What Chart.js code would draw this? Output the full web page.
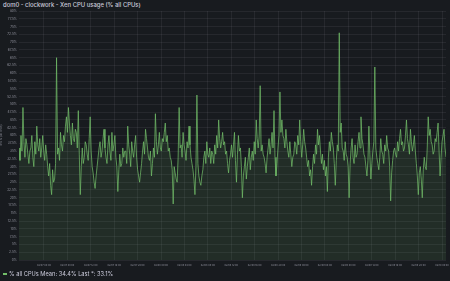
<!DOCTYPE html>
<html>
<head>
<meta charset="utf-8">
<script src="https://cdn.jsdelivr.net/npm/chart.js@4.4.1/dist/chart.umd.min.js"></script>
<style>
  html, body { margin: 0; padding: 0; background: #181b1f; }
  body { width: 450px; height: 281px; position: relative; overflow: hidden; font-family: Inter, "Noto Sans", sans-serif; }
  #chart { position: absolute; left: 0; top: 0; }
  #title { position: absolute; left: 3px; top: 1px; font-size: 5.9px; color: #ccccdc; font-weight: 500; white-space: nowrap; }
  #legend { position: absolute; left: 3px; top: 269.5px; font-size: 5.7px; color: #ccccdc; white-space: nowrap; }
  #legend .mark { display: inline-block; width: 4px; height: 1.5px; background: #73BF69; vertical-align: middle; margin-right: 2px; }
</style>
</head>
<body>
<div id="title">dom0 - clockwork - Xen CPU usage (% all CPUs)</div>
<canvas id="chart" width="450" height="281"></canvas>
<div id="legend"><span class="mark"></span>% all CPUs Mean: 34.4% Last *: 33.1%</div>
<script>
// hours relative to 02/07 00:00
const xMin = -0.26;
const xMax = 72.68;

const tickHours = [4, 8, 12, 16, 20, 24, 28, 32, 36, 40, 44, 48, 52, 56, 60, 64, 68, 72];
const tickLabels = ['02/07 04:00', '02/07 08:00', '02/07 12:00', '02/07 16:00', '02/07 20:00',
  '02/08 00:00', '02/08 04:00', '02/08 08:00', '02/08 12:00', '02/08 16:00', '02/08 20:00',
  '02/09 00:00', '02/09 04:00', '02/09 08:00', '02/09 12:00', '02/09 16:00', '02/09 20:00',
  '02/10 00:00'];

// % all CPUs, samples in time order
const cpuValues = [
  // 02/06 23:45 - 02/07 18:00
  36, 32, 40, 35, 49, 38, 33, 39, 37, 34, 31, 35, 36, 40, 33, 30, 38, 34, 43, 37,
  35, 39, 33, 36, 40, 35, 32, 37, 34, 30, 27, 31, 24, 21, 29, 25, 26, 31, 65, 34,
  36, 32, 41, 37, 35, 40, 38, 43, 46, 41, 49, 44, 40, 37, 44, 39, 38, 42, 41, 36,
  48, 34, 21, 30, 36, 31, 33, 38, 37, 34, 32, 39, 46, 35, 30, 28, 25, 23, 27, 30,
  33, 36, 38, 33, 35, 39, 42, 36, 33, 31, 37, 40, 35, 32, 41, 35, 37, 40, 33, 30,
  22, 29, 34, 30, 31, 36, 33, 35,
  // 02/07 18:00 - 02/08 12:00
  35, 31, 43, 37, 34, 30, 38, 35, 33, 37, 40, 33, 29, 27, 25, 28, 31, 35, 38, 34,
  42, 39, 36, 33, 32, 35, 27, 31, 36, 33, 47, 38, 34, 37, 41, 36, 35, 39, 38, 41,
  44, 38, 40, 35, 36, 33, 32, 29, 18, 30, 28, 26, 25, 33, 49, 36, 37, 33, 41, 37,
  35, 32, 38, 36, 43, 37, 33, 31, 29, 26, 21, 30, 53, 31, 27, 25, 24, 27, 29, 33,
  35, 31, 38, 34, 33, 36, 31, 35, 34, 31, 37, 34, 40, 36, 45, 39, 36, 38, 41, 37,
  38, 34, 35, 31, 28, 32, 34, 37,
  // 02/08 12:00 - 02/09 06:00
  33, 37, 41, 32, 25, 34, 40, 35, 36, 30, 20, 27, 30, 33, 26, 30, 33, 36, 29, 33,
  35, 32, 38, 34, 45, 39, 36, 40, 56, 35, 37, 34, 33, 31, 28, 33, 36, 39, 34, 37,
  41, 36, 48, 33, 27, 31, 36, 40, 54, 41, 45, 40, 39, 36, 42, 38, 35, 33, 38, 34,
  30, 33, 34, 38, 37, 34, 40, 37, 45, 38, 33, 37, 42, 38, 36, 33, 30, 32, 27, 29,
  24, 30, 34, 31, 37, 34, 42, 37, 40, 35, 31, 34, 29, 32, 27, 30, 22, 33, 38, 35,
  41, 38, 36, 31, 24, 32, 37, 35,
  // 02/09 06:00 - 02/10 00:40
  73, 41, 44, 36, 35, 32, 38, 34, 33, 30, 20, 31, 36, 39, 33, 31, 37, 33, 34, 38,
  41, 36, 46, 39, 37, 34, 33, 30, 27, 32, 43, 34, 26, 31, 35, 38, 62, 36, 33, 31,
  29, 33, 39, 35, 34, 31, 37, 35, 40, 36, 35, 30, 19, 28, 32, 35, 36, 34, 33, 38,
  35, 39, 42, 37, 38, 35, 36, 40, 45, 39, 37, 34, 42, 38, 35, 37, 40, 35, 31, 27,
  21, 28, 30, 26, 20, 29, 33, 30, 29, 36, 46, 40, 42, 38, 37, 34, 35, 39, 38, 41,
  44, 35, 27, 33, 38, 40, 42, 36, 33.1
];

const sampleStep = (xMax - xMin) / (cpuValues.length - 1);
const cpuPoints = cpuValues.map((v, i) => ({ x: xMin + i * sampleStep, y: v }));

const gridColor = 'rgba(204, 204, 220, 0.08)';
const tickColor = 'rgba(204, 204, 220, 0.65)';

const ctx = document.getElementById('chart').getContext('2d');
const chart = new Chart(ctx, {
  type: 'line',
  data: {
    datasets: [{
      label: '% all CPUs',
      data: cpuPoints,
      borderColor: 'rgba(115, 191, 105, 0.72)',
      borderWidth: 1,
      backgroundColor: 'rgba(115, 191, 105, 0.11)',
      fill: 'origin',
      pointRadius: 0,
      tension: 0
    }]
  },
  options: {
    responsive: false,
    animation: false,
    devicePixelRatio: 1,
    layout: { padding: { top: 11, right: 4, left: 0, bottom: 0 } },
    scales: {
      x: {
        type: 'linear',
        min: xMin,
        max: xMax,
        afterBuildTicks: (scale) => { scale.ticks = tickHours.map(v => ({ value: v })); },
        afterFit: (scale) => { scale.height = 21; scale.paddingLeft = 0; scale.paddingRight = 0; },
        ticks: {
          autoSkip: false,
          maxRotation: 0,
          padding: 4,
          color: tickColor,
          font: { family: 'Inter', size: 2.4 },
          callback: (value, index) => tickLabels[index]
        },
        grid: { color: gridColor, drawTicks: false },
        border: { display: false }
      },
      y: {
        min: 0,
        max: 80,
        afterFit: (scale) => { scale.width = 19; },
        ticks: {
          stepSize: 2.5,
          padding: 2,
          color: tickColor,
          font: { family: 'Inter', size: 3.2 },
          callback: (value) => value + '%'
        },
        title: {
          display: true,
          text: 'CPU % (all CPUs)',
          color: tickColor,
          padding: 0,
          font: { family: 'Inter', size: 2.6 }
        },
        grid: { color: gridColor, drawTicks: false },
        border: { display: false }
      }
    },
    plugins: {
      legend: { display: false },
      title: { display: false },
      tooltip: { enabled: false }
    }
  }
});
</script>
</body>
</html>
